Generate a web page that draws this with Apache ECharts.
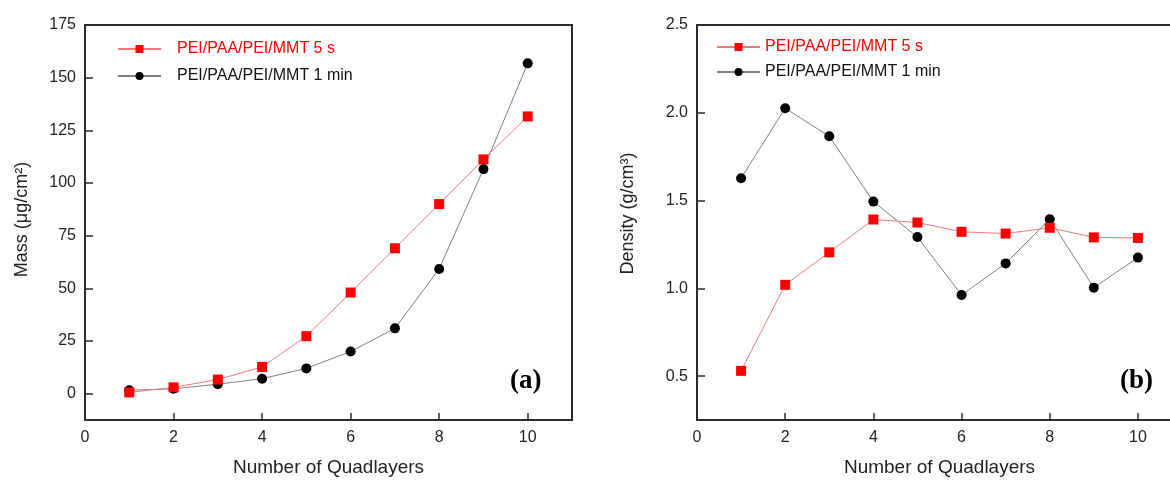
<!DOCTYPE html>
<html>
<head>
<meta charset="utf-8">
<script src="https://cdn.jsdelivr.net/npm/echarts@6/dist/echarts.min.js"></script>
<style>
html,body{margin:0;padding:0;background:#fff;}
#c{width:1170px;height:480px;}
</style>
</head>
<body>
<div id="c"></div>
<script>
var layers = [1,2,3,4,5,6,7,8,9,10];
var mass5s = [0.6,3.0,6.7,12.7,27.3,48.0,69.0,90.0,111.2,131.6];
var mass1min = [1.6,2.3,4.5,7.1,12.0,20.0,31.0,59.2,106.6,156.8];
var dens5s = [0.53,1.02,1.205,1.392,1.375,1.322,1.312,1.345,1.29,1.287];
var dens1min = [1.627,2.026,1.866,1.494,1.292,0.962,1.142,1.394,1.004,1.175];
var xTicks = [0,2,4,6,8,10];
var massTicks = [0,25,50,75,100,125,150,175];
var densTicks = [0.5,1.0,1.5,2.0,2.5];
var name5s = 'PEI/PAA/PEI/MMT 5 s';
var name1min = 'PEI/PAA/PEI/MMT 1 min';

function pairs(xs, ys){ return xs.map(function(x,i){ return [x, ys[i]]; }); }

var FONT = 'Liberation Sans, Arial, sans-serif';
var axisCol = '#2b2b2b';

function xAxisCfg(gi){
  return {
    type:'value', gridIndex:gi, min:0, max:11,
    name:'Number of Quadlayers', nameLocation:'middle', nameGap:38,
    nameTextStyle:{fontFamily:FONT, fontSize:19, color:'#222'},
    axisLine:{show:true, onZero:false, lineStyle:{color:axisCol, width:2}},
    axisTick:{show:true, inside:true, length:7, customValues:xTicks, lineStyle:{color:axisCol, width:1.5}},
    axisLabel:{customValues:xTicks, margin:10, fontFamily:FONT, fontSize:16, color:'#222'},
    splitLine:{show:false}
  };
}
function yAxisCfg(gi, min, max, ticks, name, gap, pad, fmt){
  return {
    type:'value', gridIndex:gi, min:min, max:max,
    name:name, nameLocation:'middle', nameGap:gap,
    nameTextStyle:{fontFamily:FONT, fontSize:18, color:'#222', padding:[0,0,0,pad]},
    axisLine:{show:true, onZero:false, lineStyle:{color:axisCol, width:2}},
    axisTick:{show:true, inside:true, length:8, customValues:ticks, lineStyle:{color:axisCol, width:1.5}},
    axisLabel:{customValues:ticks, margin:9, fontFamily:FONT, fontSize:16, color:'#222', formatter:fmt},
    splitLine:{show:false}
  };
}

var redSym = {color:'#ff0000'};
var blackSym = {color:'#000000'};

var option = {
  animation:false,
  backgroundColor:'#fff',
  grid:[
    {left:85, top:25, width:487, height:395, show:true, borderColor:axisCol, borderWidth:2, outerBoundsMode:'none'},
    {left:697, top:25, width:485, height:395, show:true, borderColor:axisCol, borderWidth:2, outerBoundsMode:'none'}
  ],
  xAxis:[xAxisCfg(0), xAxisCfg(1)],
  yAxis:[
    yAxisCfg(0, -12.5, 175, massTicks, 'Mass (μg/cm²)', 54, 6, function(v){return String(v);}),
    yAxisCfg(1, 0.25, 2.5, densTicks, 'Density (g/cm³)', 60, 18, function(v){return v.toFixed(1);})
  ],
  legend:[
    {orient:'vertical', left:112, top:36, itemWidth:43, itemHeight:10, itemGap:11,
     textStyle:{fontFamily:FONT, fontSize:16, color:'#111', padding:[0,0,0,11]},
     data:[{name:name5s, textStyle:{color:'#ff0000'}},{name:name1min}]},
    {orient:'vertical', left:711, top:34, itemWidth:43, itemHeight:10, itemGap:9,
     textStyle:{fontFamily:FONT, fontSize:16, color:'#111', padding:[0,0,0,0]},
     data:[{name:name5s, textStyle:{color:'#ff0000'}},{name:name1min}]}
  ],
  series:[
    {name:name1min, type:'line', xAxisIndex:0, yAxisIndex:0, data:pairs(layers, mass1min),
     symbol:'circle', symbolSize:10, itemStyle:blackSym, lineStyle:{color:'#808080', width:1}, z:2},
    {name:name5s, type:'line', xAxisIndex:0, yAxisIndex:0, data:pairs(layers, mass5s),
     symbol:'rect', symbolSize:10, itemStyle:redSym, lineStyle:{color:'#f47a7a', width:1}, z:3},
    {name:name1min, type:'line', xAxisIndex:1, yAxisIndex:1, data:pairs(layers, dens1min),
     symbol:'circle', symbolSize:10, itemStyle:blackSym, lineStyle:{color:'#808080', width:1}, z:2},
    {name:name5s, type:'line', xAxisIndex:1, yAxisIndex:1, data:pairs(layers, dens5s),
     symbol:'rect', symbolSize:10, itemStyle:redSym, lineStyle:{color:'#f47a7a', width:1}, z:3}
  ],
  graphic:[
    {type:'text', left:510, top:368, style:{text:'(a)', font:'bold 27px "Liberation Serif", "Times New Roman", serif', fill:'#000'}},
    {type:'text', left:1120, top:368, style:{text:'(b)', font:'bold 27px "Liberation Serif", "Times New Roman", serif', fill:'#000'}}
  ]
};
var chart = echarts.init(document.getElementById('c'), null, {renderer:'canvas'});
chart.setOption(option);
</script>
</body>
</html>
